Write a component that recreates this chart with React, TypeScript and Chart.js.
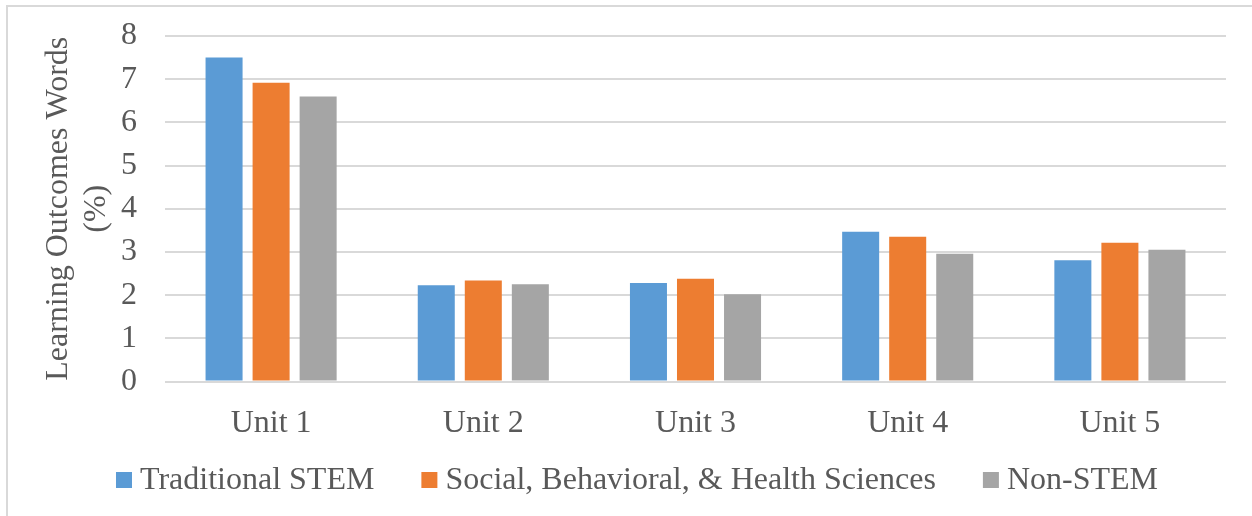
import React, { useEffect, useRef } from "react";
import { Chart, registerables } from "chart.js";

Chart.register(...registerables);

const categories = ["Unit 1", "Unit 2", "Unit 3", "Unit 4", "Unit 5"];
const seriesNames = ["Traditional STEM", "Social, Behavioral, & Health Sciences", "Non-STEM"];
const traditionalStem = [7.5, 2.23, 2.28, 3.47, 2.81];
const socialSciences = [6.92, 2.34, 2.38, 3.35, 3.21];
const nonStem = [6.6, 2.25, 2.02, 2.96, 3.05];
const seriesColors = ["#5B9BD5", "#ED7D31", "#A5A5A5"];
const yTicks = [0, 1, 2, 3, 4, 5, 6, 7, 8];
const yTitle = ["Learning Outcomes Words", "(%)"];

const FONT = "'Liberation Serif', 'Times New Roman', serif";
const TEXT = "#595959";

const legendPlugin = {
  id: "squareLegend",
  afterDraw(chart: any) {
    const opts = chart.options.plugins.squareLegend;
    const ctx = chart.ctx;
    ctx.save();
    ctx.font = `${opts.fontSize}px ${FONT}`;
    ctx.textBaseline = "middle";
    ctx.textAlign = "left";
    const items = chart.data.datasets.map((d: any) => ({
      label: d.label,
      color: d.backgroundColor,
      w: ctx.measureText(d.label).width,
    }));
    let total = 0;
    items.forEach((it: any, i: number) => {
      total += opts.box + opts.boxGap + it.w;
      if (i > 0) total += opts.itemGap;
    });
    let x = opts.centerX - total / 2;
    const y = opts.centerY;
    items.forEach((it: any) => {
      ctx.fillStyle = it.color;
      ctx.fillRect(x, y - opts.box / 2, opts.box, opts.box);
      x += opts.box + opts.boxGap;
      ctx.fillStyle = TEXT;
      ctx.fillText(it.label, x, y + 1);
      x += it.w + opts.itemGap;
    });
    ctx.restore();
  },
};

export default function App() {
  const ref = useRef<HTMLCanvasElement | null>(null);

  useEffect(() => {
    document.body.style.margin = "0";
    const canvas = ref.current;
    if (!canvas) return;
    const values = [traditionalStem, socialSciences, nonStem];
    const chart = new Chart(canvas, {
      type: "bar",
      data: {
        labels: categories,
        datasets: seriesNames.map((name, i) => ({
          label: name,
          data: values[i],
          backgroundColor: seriesColors[i],
          borderWidth: 0,
          categoryPercentage: 0.665,
          barPercentage: 0.787,
        })),
      },
      plugins: [legendPlugin],
      options: {
        responsive: false,
        animation: false,
        devicePixelRatio: 1,
        layout: { padding: { left: 30, right: 26, top: 36, bottom: 64.5 } },
        plugins: {
          legend: { display: false },
          tooltip: { enabled: false },
          squareLegend: {
            fontSize: 32,
            box: 16,
            boxGap: 8,
            itemGap: 47,
            centerX: 637,
            centerY: 480,
          },
        } as any,
        scales: {
          x: {
            grid: { display: false },
            border: { display: false },
            ticks: {
              color: TEXT,
              font: { family: FONT, size: 32 },
              padding: 15,
              maxRotation: 0,
            },
            afterFit: (s: any) => {
              s.height = 70;
            },
          },
          y: {
            min: 0,
            max: 8,
            afterBuildTicks: (s: any) => {
              s.ticks = yTicks.map((v) => ({ value: v }));
            },
            grid: {
              color: "#d9d9d9",
              lineWidth: 2,
              drawTicks: true,
              tickLength: 28,
              tickColor: "rgba(0,0,0,0)",
            },
            border: { display: false },
            ticks: {
              color: TEXT,
              font: { family: FONT, size: 32 },
              padding: 0,
            },
            title: {
              display: true,
              text: yTitle,
              color: TEXT,
              font: { family: FONT, size: 32, lineHeight: 1.2 },
              padding: { top: 9, bottom: 0 },
            },
            afterFit: (s: any) => {
              s.width = 135;
            },
          },
        },
      },
    });
    return () => chart.destroy();
  }, []);

  return (
    <div style={{ position: "relative", width: 1252, height: 516, overflow: "hidden", background: "#fff" }}>
      <div
        style={{
          position: "absolute",
          left: 6,
          top: 5,
          width: 1400,
          height: 700,
          border: "2px solid #d9d9d9",
        }}
      />
      <canvas ref={ref} width={1252} height={516} style={{ position: "absolute", left: 0, top: 0 }} />
    </div>
  );
}
